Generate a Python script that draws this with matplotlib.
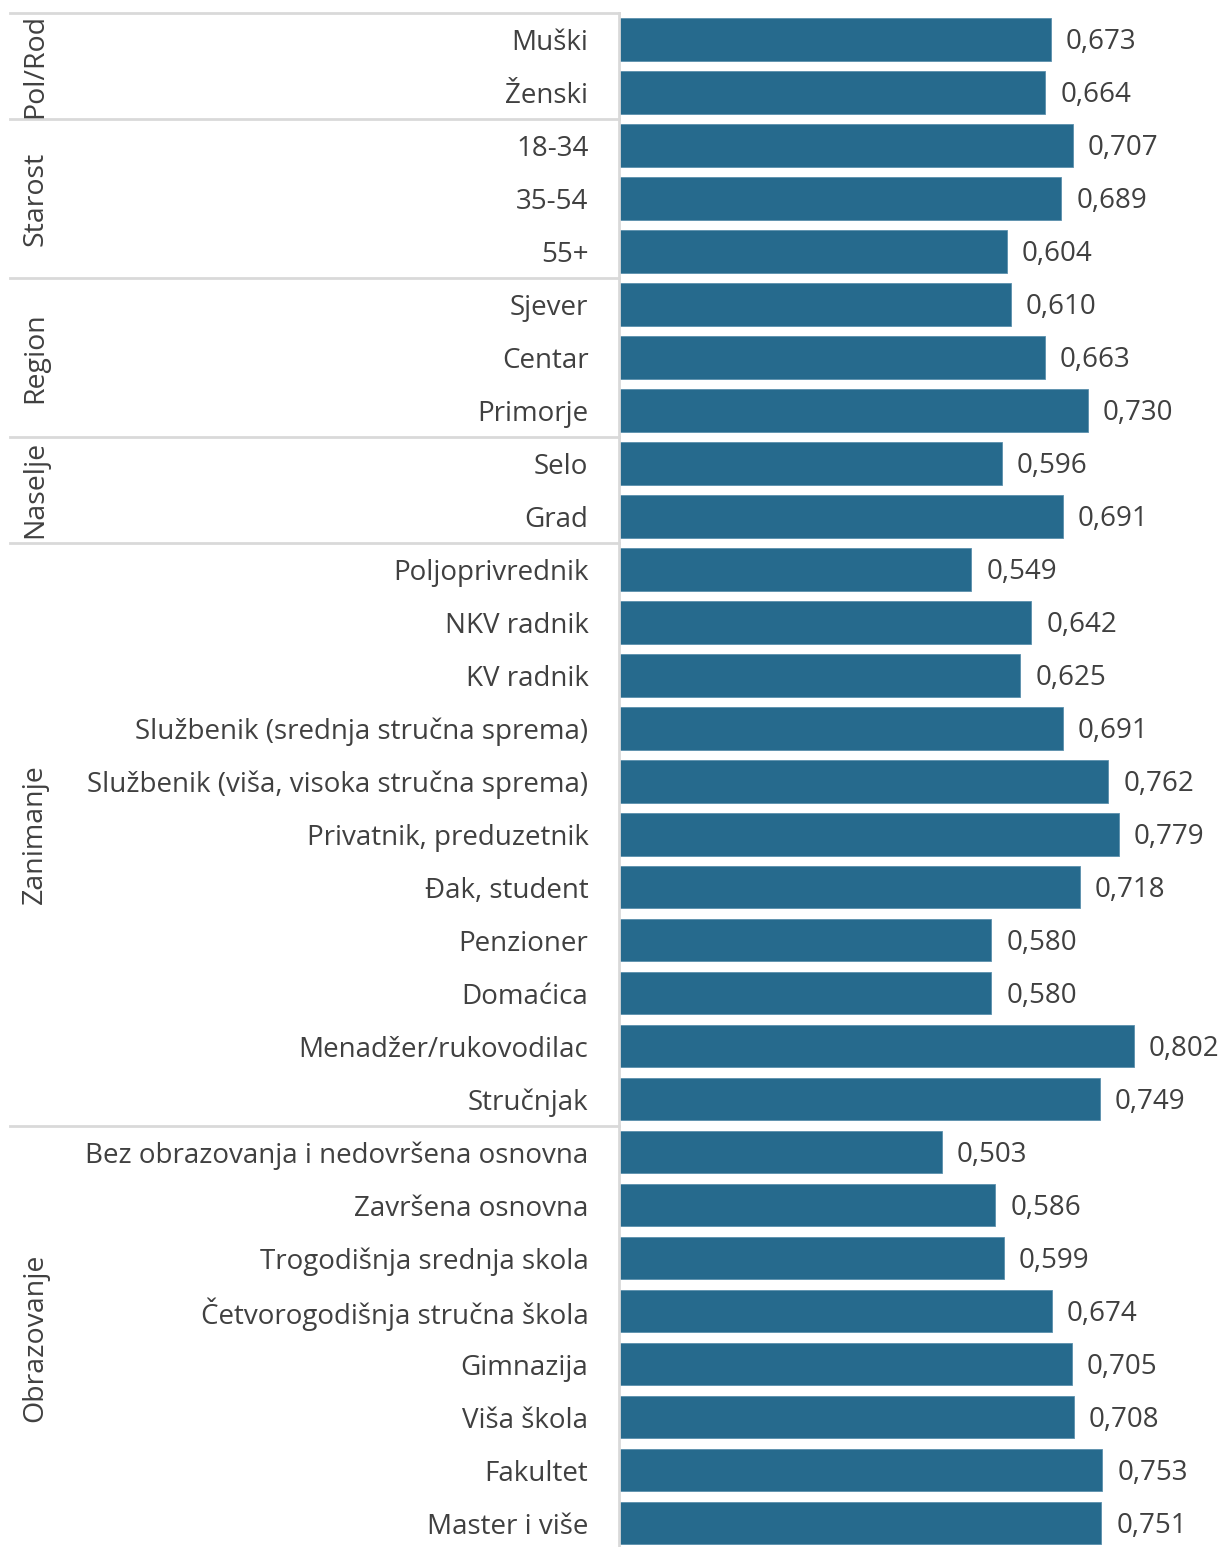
import matplotlib.pyplot as plt
import matplotlib.transforms as mtransforms

categories = ["Muški", "Ženski",
              "18-34", "35-54", "55+",
              "Sjever", "Centar", "Primorje",
              "Selo", "Grad",
              "Poljoprivrednik", "NKV radnik", "KV radnik",
              "Službenik (srednja stručna sprema)",
              "Službenik (viša, visoka stručna sprema)",
              "Privatnik, preduzetnik", "Đak, student", "Penzioner",
              "Domaćica", "Menadžer/rukovodilac", "Stručnjak",
              "Bez obrazovanja i nedovršena osnovna", "Završena osnovna",
              "Trogodišnja srednja skola", "Četvorogodišnja stručna škola",
              "Gimnazija", "Viša škola", "Fakultet", "Master i više"]
values = [0.673, 0.664,
          0.707, 0.689, 0.604,
          0.610, 0.663, 0.730,
          0.596, 0.691,
          0.549, 0.642, 0.625, 0.691, 0.762, 0.779, 0.718, 0.580, 0.580, 0.802, 0.749,
          0.503, 0.586, 0.599, 0.674, 0.705, 0.708, 0.753, 0.751]
groups = ["Pol/Rod", "Starost", "Region", "Naselje", "Zanimanje", "Obrazovanje"]
group_sizes = [2, 3, 3, 2, 11, 8]

plt.rcParams['font.family'] = ['Open Sans', 'DejaVu Sans']
text_color = "#404040"
bar_color = "#266A8D"
line_color = "#D9D9D9"

W, H = 1222, 1547
fig = plt.figure(figsize=(W / 100, H / 100), dpi=100)
ax = fig.add_axes([619 / W, 0, 1 - 619 / W, 1 - 13 / H])

y = list(range(len(categories)))
ax.barh(y, values, height=0.8, color=bar_color, edgecolor="#5B8FAD", linewidth=0.6)
ax.set_xlim(0, 603 / 642)
ax.set_ylim(len(categories) - 0.55, -0.5)

for yi, v in zip(y, values):
    ax.annotate(f"{v:.3f}".replace(".", ","), (v, yi), xytext=(15, -3),
                textcoords="offset pixels",
                va="center", ha="left", fontsize=20, color=text_color)

ax.set_yticks(y)
ax.set_yticklabels(categories, fontsize=20, color=text_color)
ax.tick_params(axis="y", length=0, pad=22)
ax.set_xticks([])
for s in ["top", "right", "bottom"]:
    ax.spines[s].set_visible(False)
ax.spines["left"].set_color(line_color)
ax.spines["left"].set_linewidth(2)

trans = mtransforms.blended_transform_factory(ax.transAxes, ax.transData)
x_left = (10 - 619) / 603
start = 0
for g, n in zip(groups, group_sizes):
    ax.plot([x_left, 0], [start - 0.5, start - 0.5], transform=trans,
            color=line_color, lw=2, clip_on=False)
    mid = start + (n - 1) / 2
    ax.text((35 - 619) / 603, mid, g, transform=trans, rotation=90,
            ha="center", va="center", fontsize=20.5, color=text_color)
    start += n

plt.savefig("out.png", dpi=100)
